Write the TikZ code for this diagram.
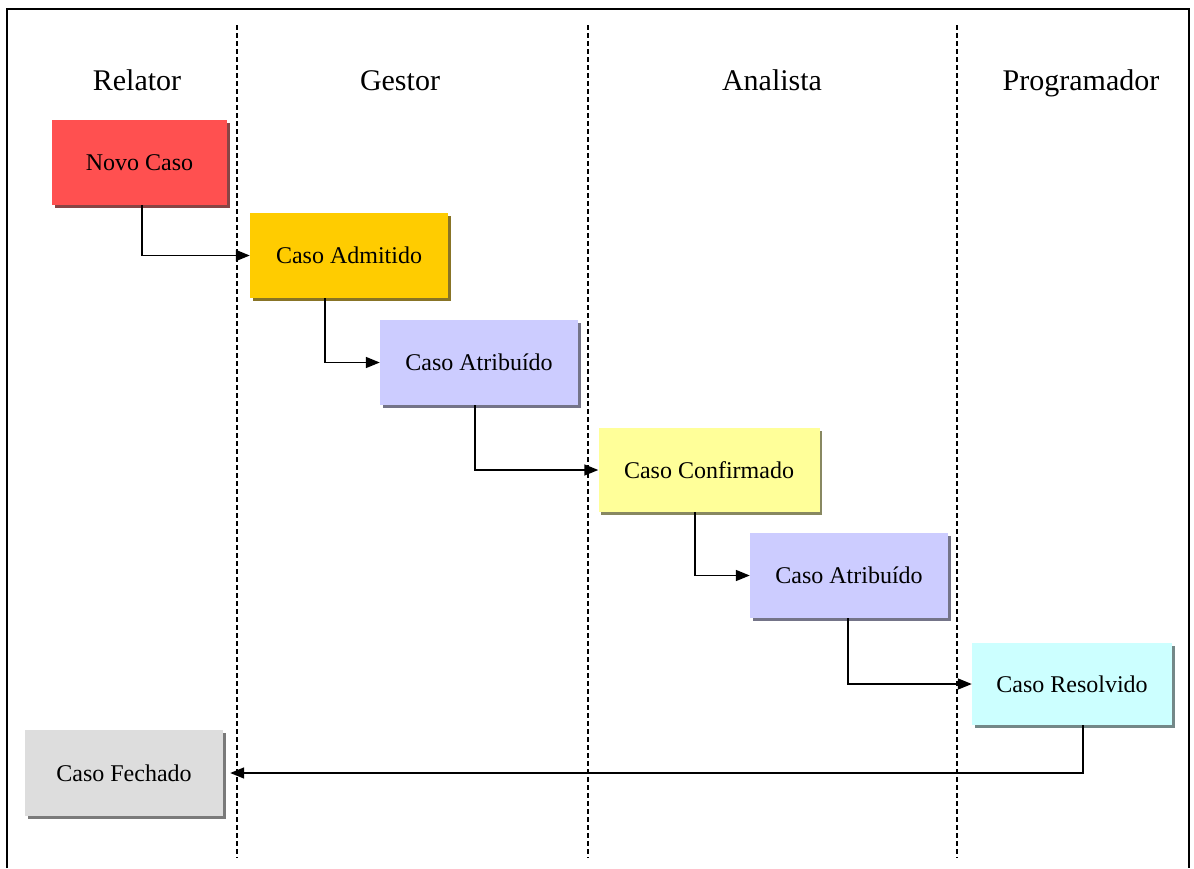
\documentclass[tikz,border=0pt]{standalone}
\usepackage{fontspec}
\setmainfont{Liberation Serif}
\usetikzlibrary{arrows.meta,shadows}
\definecolor{Vermelho}{HTML}{FF5050}
\definecolor{Ouro}{HTML}{FFCC00}
\definecolor{Lilas}{HTML}{CCCCFF}
\definecolor{Amarelo}{HTML}{FFFF99}
\definecolor{Ciano}{HTML}{CCFFFF}
\definecolor{Cinza}{HTML}{DDDDDD}
\tikzset{
  caixa/.style={fill=#1,inner sep=0pt,minimum width=198pt,minimum height=85pt,
    font=\fontsize{24}{28}\selectfont,
    drop shadow={shadow xshift=2.5pt,shadow yshift=-2.5pt,fill=#1!45!black,opacity=.85}},
  titulo/.style={anchor=base,font=\fontsize{30}{35}\selectfont},
  raia/.style={black,line width=1.2pt,dash pattern=on 5pt off 3pt},
  seta/.style={black,line width=1.6pt,-{Triangle[length=14pt,width=11pt]}}
}

\begin{document}
\begin{tikzpicture}[x=1pt,y=-1pt]
\useasboundingbox (0,0) rectangle (1194,868);
\draw[line width=1.2pt] (7,868) -- (7,9) -- (1189,9) -- (1189,868);
% raias
\foreach \x in {237,588,957}
  \draw[raia] (\x,25) -- (\x,858);
\node[titulo] (relator) at (137,90) {Relator};
\node[titulo] (gestor) at (400,90) {Gestor};
\node[titulo] (analista) at (772,90) {Analista};
\node[titulo] (programador) at (1081,90) {Programador};
% estados
\node[caixa=Vermelho,minimum width=175pt] (novo) at (139.5,162.5) {Novo Caso};
\node[caixa=Ouro] (admitido) at (349,255.5) {Caso Admitido};
\node[caixa=Lilas] (atribuido) at (479,362.5) {Caso Atribuído};
\node[caixa=Amarelo,minimum width=221pt,minimum height=84pt] (confirmado) at (709,470) {Caso Confirmado};
\node[caixa=Lilas] (atribuidoB) at (849,575.5) {Caso Atribuído};
\node[caixa=Ciano,minimum width=200pt,minimum height=82pt] (resolvido) at (1072,684) {Caso Resolvido};
\node[caixa=Cinza,minimum height=86pt] (fechado) at (124,773) {Caso Fechado};
% transicoes
\draw[seta] ([xshift=2.5pt]novo.south) |- (admitido.west);
\draw[seta] ([xshift=-24pt]admitido.south) |- (atribuido.west);
\draw[seta] ([xshift=-4pt]atribuido.south) |- (confirmado.west);
\draw[seta] ([xshift=-14pt]confirmado.south) |- (atribuidoB.west);
\draw[seta] ([xshift=-1pt]atribuidoB.south) |- (resolvido.west);
\draw[seta,shorten >=7pt] ([xshift=11pt]resolvido.south) |- (fechado.east);
\end{tikzpicture}
\end{document}
